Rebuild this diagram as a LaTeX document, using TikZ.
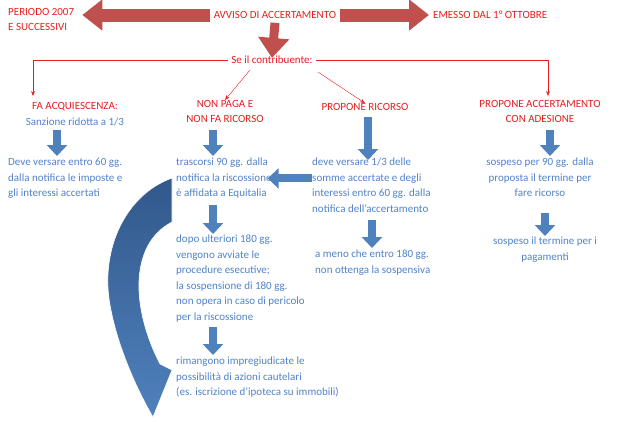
\documentclass[tikz,border=0pt]{standalone}
\usepackage{fontspec}
\setmainfont{Carlito}
\usetikzlibrary{arrows.meta, positioning}
\definecolor{redtxt}{RGB}{228,30,30}
\definecolor{bluetxt}{RGB}{80,130,200}
\definecolor{bigred}{RGB}{192,80,77}
\definecolor{bigblue}{RGB}{79,129,189}
\definecolor{darkblue}{RGB}{50,88,138}

\begin{document}
\begin{tikzpicture}[
    x=1pt, y=-1pt,
    every node/.style={font=\fontsize{11}{15.5}\selectfont, inner sep=0pt},
    head/.style={text=redtxt, align=center},
    info/.style={text=bluetxt, align=left, anchor=north west},
    redarrow/.style={draw=bigred, line width=13pt, -{Triangle[width=30pt,length=20pt]}},
    bluearrow/.style={draw=bigblue, line width=8pt, -{Triangle[width=20pt,length=11pt]}},
    thin/.style={draw=redtxt, -{Stealth[length=5pt]}}
]
\useasboundingbox (0,0) rectangle (640,421);

% top row
\node[head] (avviso) at (275,15) {AVVISO DI ACCERTAMENTO};
\node[head, align=left, anchor=north west] (periodo) at (8,8) {PERIODO 2007\\E SUCCESSIVI};
\node[head, anchor=west] (emesso) at (433,15) {EMESSO DAL 1° OTTOBRE};
\node[head] (se) at (272,60) {Se il contribuente:};
\draw[redarrow] ([xshift=-4pt]avviso.west) -- ([xshift=8pt]periodo.east |- avviso);
\draw[redarrow] ([xshift=4pt]avviso.east) -- ([xshift=-4pt]emesso.west);
\draw[redarrow, line width=9pt] ([yshift=-4pt]avviso.south) -- ([yshift=-2pt]se.north);

% the four cases
\node[head] (acq) at (75,107) {FA ACQUIESCENZA:};
\node[text=bluetxt, below=6pt of acq] (sanz) {Sanzione ridotta a 1/3};
\node[head, anchor=north] (nonpaga) at (225,100) {NON PAGA E\\NON FA RICORSO};
\node[head] (ricorso) at (365,107) {PROPONE RICORSO};
\node[head, anchor=north] (adesione) at (540,100) {PROPONE ACCERTAMENTO\\CON ADESIONE};

\draw[thin] ([xshift=-3pt]se.west) -| (33,96);
\draw[thin] ([xshift=3pt]se.east) -| (548,96);
\draw[thin] (250,70) -- (nonpaga.north);
\draw[thin] (318,72) -- (ricorso.north);

% texts below
\node[info] (versa) at (8,158) {Deve versare entro 60 gg.\\dalla notifica le imposte e\\gli interessi accertati};
\node[info] (trasc) at (176,158) {trascorsi 90 gg. dalla\\notifica la riscossione\\è affidata a Equitalia};
\node[info] (terzo) at (312,158) {deve versare 1/3 delle\\somme accertate e degli\\interessi entro 60 gg. dalla\\notifica dell’accertamento};
\node[text=bluetxt, align=center, anchor=north] (sosp) at (540,158) {sospeso per 90 gg. dalla\\proposta il termine per\\fare ricorso};
\node[info] (dopo) at (176,235) {dopo ulteriori 180 gg.\\vengono avviate le\\procedure esecutive;\\la sospensione di 180 gg.\\non opera in caso di pericolo\\per la riscossione};
\node[info] (meno) at (315,250) {a meno che entro 180 gg.\\non ottenga la sospensiva};
\node[text=bluetxt, align=center, anchor=north] (pag) at (545,237) {sospeso il termine per i\\pagamenti};
\node[info] (rim) at (176,357) {rimangono impregiudicate le\\possibilità di azioni cautelari\\(es. iscrizione d’ipoteca su immobili)};

% blue arrows
\draw[bluearrow] (57,130) -- (57,156);
\draw[bluearrow] (213,130) -- (213,156);
\draw[bluearrow] (368,117) -- (368,160);
\draw[bluearrow] (550,130) -- (550,156);
\draw[bluearrow] (terzo.west|-trasc.east) -- ([xshift=-4pt]trasc.east);
\draw[bluearrow] (213,205) -- (213,234);
\draw[bluearrow] (372,220) -- (372,248);
\draw[bluearrow] (545,213) -- (545,236);
\draw[bluearrow] (213,327) -- (213,355);

% big curved arrow
\shade[top color=darkblue, bottom color=bigblue, draw=white, line width=0.6pt]
  (172,178) .. controls (125,195) and (100,250) .. (110,305)
  .. controls (118,350) and (140,395) .. (153,417)
  -- (172,370) -- (160,364)
  .. controls (132,310) and (128,245) .. (172,222) -- cycle;
\end{tikzpicture}
\end{document}
